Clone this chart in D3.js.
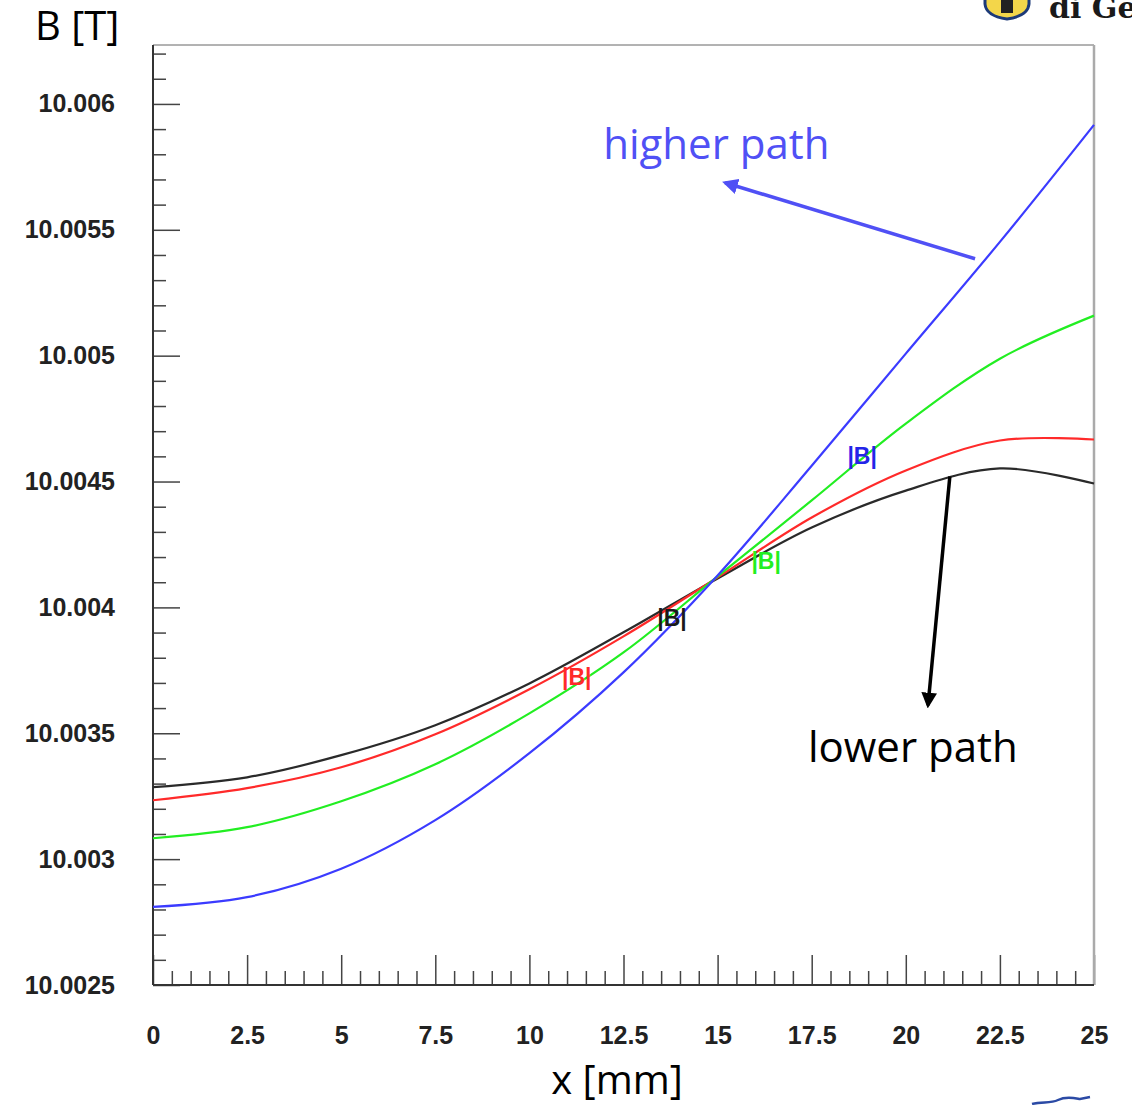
<!DOCTYPE html>
<html>
<head>
<meta charset="utf-8">
<script src="https://cdn.jsdelivr.net/npm/d3@7"></script>
<style>
  html, body { margin: 0; padding: 0; background: #fff; }
  svg { display: block; }
  .tick text { font-family: "Liberation Sans", Arial, sans-serif; font-weight: bold; font-size: 25px; fill: #222; }
  .tick line { stroke: #444; stroke-width: 1.5; }
  .title { font-family: "Open Sans", sans-serif; font-size: 40px; }
  .note { font-family: "Open Sans", sans-serif; font-size: 42px; }
  .blab { font-family: "Liberation Sans", Arial, sans-serif; font-weight: bold; font-size: 23px; }
</style>
</head>
<body>
<div class="app"></div>
<script>
// x positions [mm]
var xs = [0, 2.5, 5, 7.5, 10, 12.5, 15, 17.5, 20, 22.5, 25];

// |B| [T] along the four paths
var blackB = [10.003286, 10.003325, 10.003413, 10.003532, 10.003698, 10.003901, 10.004115, 10.004317, 10.004464, 10.004552, 10.004492];
var redB   = [10.003234, 10.003282, 10.003365, 10.003496, 10.003675, 10.003885, 10.004119, 10.004357, 10.004544, 10.004663, 10.004667];
var greenB = [10.003083, 10.003127, 10.003230, 10.003377, 10.003579, 10.003821, 10.004123, 10.004425, 10.004730, 10.004988, 10.005159];
var blueB  = [10.002810, 10.002849, 10.002962, 10.003155, 10.003421, 10.003742, 10.004127, 10.004563, 10.005008, 10.005452, 10.005917];

var seriesColors = ["#2a2a2a", "#ff2a2a", "#22ee22", "#3b3bff"];
var labelColors = ["#1a1a1a", "#ff2a2a", "#22ee22", "#2424e8"];

// "|B|" labels, placed in data coordinates
var labelX = [13.79, 11.26, 16.29, 18.84];
var labelY = [10.00396, 10.003726, 10.004187, 10.004603];

var xTicks = [0, 2.5, 5, 7.5, 10, 12.5, 15, 17.5, 20, 22.5, 25];
var xTickLabels = ["0", "2.5", "5", "7.5", "10", "12.5", "15", "17.5", "20", "22.5", "25"];
var yTicks = [10.0025, 10.003, 10.0035, 10.004, 10.0045, 10.005, 10.0055, 10.006];
var yTickLabels = ["10.0025", "10.003", "10.0035", "10.004", "10.0045", "10.005", "10.0055", "10.006"];

var W = 1132, H = 1105;
var margin = {top: 45, right: 38, bottom: 120, left: 153},
    width = W - margin.left - margin.right,
    height = H - margin.top - margin.bottom;

var x = d3.scaleLinear().domain([0, 25]).range([0, width]);
var y = d3.scaleLinear().domain([10.0025, 10.0062341]).range([height, 0]);

var svg = d3.select(".app").append("svg")
    .attr("width", W)
    .attr("height", H);

var g = svg.append("g")
    .attr("transform", "translate(" + margin.left + "," + margin.top + ")");

// minor ticks
var xMinor = d3.range(0, 25.001, 0.5).filter(function(v) { return Math.abs(v / 2.5 - Math.round(v / 2.5)) > 1e-6; });
var yMinor = d3.range(0, 38).map(function(i) { return 10.0025 + i * 0.0001; })
    .filter(function(v, i) { return i % 5 !== 0; });

g.append("g")
    .attr("transform", "translate(0," + height + ")")
    .call(d3.axisBottom(x).tickValues(xMinor).tickSizeInner(-14).tickSizeOuter(0).tickFormat(""))
    .call(function(a) { a.select(".domain").remove(); });
g.append("g")
    .attr("transform", "translate(0," + height + ")")
    .call(d3.axisBottom(x).tickValues(xTicks).tickSizeInner(-30).tickSizeOuter(0).tickPadding(41)
      .tickFormat(function(d, i) { return xTickLabels[i]; }))
    .call(function(a) { a.select(".domain").remove(); });

g.append("g")
    .call(d3.axisLeft(y).tickValues(yMinor).tickSizeInner(-13).tickSizeOuter(0).tickFormat(""))
    .call(function(a) { a.select(".domain").remove(); });
g.append("g")
    .call(d3.axisLeft(y).tickValues(yTicks).tickSizeInner(-27).tickSizeOuter(0).tickPadding(38)
      .tickFormat(function(d, i) { return yTickLabels[i]; }))
    .call(function(a) { a.select(".domain").remove(); });

// frame
g.append("line").attr("x1", 0).attr("x2", width).attr("y1", 0).attr("y2", 0)
    .attr("stroke", "#666").attr("stroke-width", 1);
g.append("line").attr("x1", width).attr("x2", width).attr("y1", 0).attr("y2", height)
    .attr("stroke", "#aaa").attr("stroke-width", 2.5);
g.append("line").attr("x1", 0).attr("x2", width).attr("y1", height).attr("y2", height)
    .attr("stroke", "#333").attr("stroke-width", 2);
g.append("line").attr("x1", 0).attr("x2", 0).attr("y1", 0).attr("y2", height)
    .attr("stroke", "#333").attr("stroke-width", 2);

// curves
var line = d3.line()
    .x(function(d) { return x(d[0]); })
    .y(function(d) { return y(d[1]); })
    .curve(d3.curveCatmullRom.alpha(0.5));

[blackB, redB, greenB, blueB].forEach(function(vals, k) {
  g.append("path")
      .datum(xs.map(function(xv, i) { return [xv, vals[i]]; }))
      .attr("fill", "none")
      .attr("stroke", seriesColors[k])
      .attr("stroke-width", 2.2)
      .attr("d", line);
});

// |B| labels
labelX.forEach(function(lx, k) {
  g.append("text")
      .attr("class", "blab")
      .attr("x", x(lx))
      .attr("y", y(labelY[k]))
      .attr("dy", "0.36em")
      .attr("text-anchor", "middle")
      .attr("fill", labelColors[k])
      .text("|B|");
});

// axis titles
svg.append("text").attr("class", "title").attr("x", 35).attr("y", 40).text("B [T]");
svg.append("text").attr("class", "title").attr("x", 617).attr("y", 1094)
    .attr("text-anchor", "middle").text("x [mm]");

// annotations
var defs = svg.append("defs");
function marker(id, color) {
  defs.append("marker").attr("id", id)
      .attr("viewBox", "0 0 10 10").attr("refX", 8).attr("refY", 5)
      .attr("markerWidth", 4.5).attr("markerHeight", 4.5).attr("orient", "auto")
    .append("path").attr("d", "M0,0 L10,5 L0,10 Z").attr("fill", color);
}
marker("arrBlue", "#5050f5");
marker("arrBlack", "#000");

g.append("line")
    .attr("x1", x(21.84)).attr("y1", y(10.005385))
    .attr("x2", x(15.20)).attr("y2", y(10.005687))
    .attr("stroke", "#5050f5").attr("stroke-width", 3.5)
    .attr("marker-end", "url(#arrBlue)");
g.append("text").attr("class", "note").attr("x", x(11.96)).attr("y", y(10.005782))
    .attr("fill", "#5050f5").text("higher path");

g.append("line")
    .attr("x1", x(21.17)).attr("y1", y(10.00452))
    .attr("x2", x(20.59)).attr("y2", y(10.003611))
    .attr("stroke", "#000").attr("stroke-width", 3.5)
    .attr("marker-end", "url(#arrBlack)");
g.append("text").attr("class", "note").attr("x", x(17.40)).attr("y", y(10.003385))
    .attr("fill", "#000").text("lower path");

// cropped logo, top right
svg.append("path")
    .attr("d", "M985,-3 L1029,-3 L1029,4 Q1028,16 1007,19 Q986,16 985,4 Z")
    .attr("fill", "#f3d64a").attr("stroke", "#1d3a78").attr("stroke-width", 3);
svg.append("path")
    .attr("d", "M1001,-3 L1013,-3 L1013,13 L1001,13 Z")
    .attr("fill", "#222");
svg.append("text")
    .attr("x", 1049).attr("y", 18)
    .attr("font-family", "DejaVu Serif, serif").attr("font-weight", "bold")
    .attr("font-size", 30).attr("fill", "#1a1a1a")
    .text("di Ge");

// scribble, bottom right
svg.append("path")
    .attr("d", "M1032,1104 C1042,1101 1050,1104 1058,1100 S1074,1098 1080,1099 L1090,1097")
    .attr("fill", "none").attr("stroke", "#2b4aa5").attr("stroke-width", 2.5);
</script>
</body>
</html>
